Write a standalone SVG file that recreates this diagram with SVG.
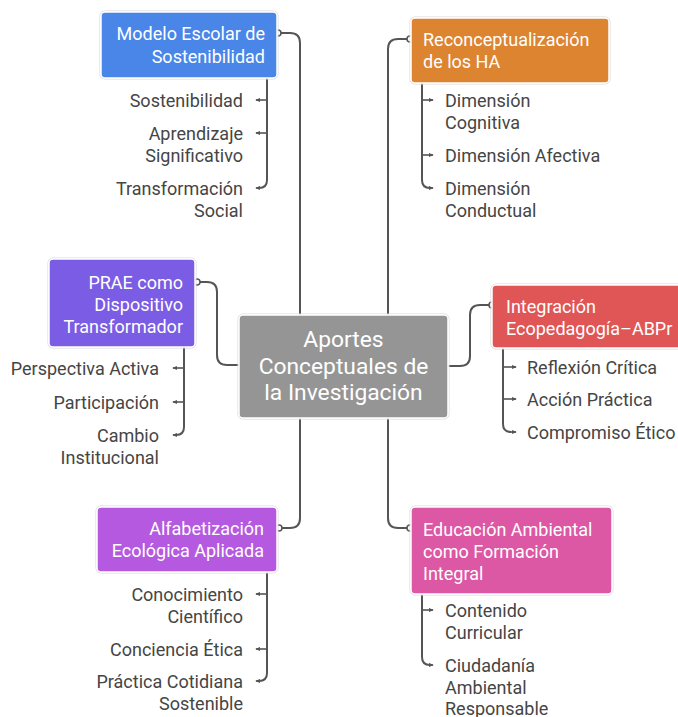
<svg xmlns="http://www.w3.org/2000/svg" width="678" height="717" viewBox="0 0 678 717">
<style>
.box{stroke:#ffffff;stroke-width:1.5}
.frame{fill:none;stroke:#d9d9d9;stroke-width:1}
.nt{font-family:Roboto,"Liberation Sans",sans-serif;font-size:18px;fill:#ffffff}
.ct{font-family:Roboto,"Liberation Sans",sans-serif;font-size:22.8px;fill:#ffffff;text-anchor:middle}
.lt{font-family:Roboto,"Liberation Sans",sans-serif;font-size:18px;fill:#454545}
.r{text-anchor:end}
.c{fill:none;stroke:#555555;stroke-width:2}
.t{fill:none;stroke:#555555;stroke-width:1.6;marker-end:url(#ah)}
.o{fill:#ffffff;stroke:#555555;stroke-width:1.5}
</style>
<defs>
<marker id="ah" viewBox="0 0 6 6" refX="5" refY="3" markerWidth="5" markerHeight="5" orient="auto" markerUnits="userSpaceOnUse"><path d="M0,0.5 L6,3 L0,5.5 z" fill="#555555"/></marker>
</defs>
<rect width="678" height="717" fill="#ffffff"/>
<g id="connectors">
<path class="c" d="M278 33 H290 Q300 33 300 43 V315"/>
<path class="c" d="M410 39 H398 Q388 39 388 49 V315"/>
<path class="c" d="M197 282 H207 Q217 282 217 292 V355 Q217 365 227 365 H239"/>
<path class="c" d="M448 366 H460 Q470 366 470 356 V315 Q470 305 480 305 H491"/>
<path class="c" d="M300 418 V518 Q300 528 290 528 H279"/>
<path class="c" d="M388 418 V518 Q388 528 398 528 H410"/>
<circle class="o" cx="278" cy="33" r="3"/>
<circle class="o" cx="410" cy="39" r="3"/>
<circle class="o" cx="197" cy="282" r="3"/>
<circle class="o" cx="492" cy="305" r="3"/>
<circle class="o" cx="279" cy="528" r="3"/>
<circle class="o" cx="410" cy="528" r="3"/>
<path class="c" d="M267 78 V180 Q267 188 259 188"/>
<path class="t" d="M267 100 H256"/>
<path class="t" d="M267 133 H256"/>
<path class="t" d="M260 188 H256"/>
<path class="c" d="M422 83 V180 Q422 188 430 188"/>
<path class="t" d="M422 100 H433"/>
<path class="t" d="M422 155 H433"/>
<path class="t" d="M429 188 H433"/>
<path class="c" d="M184 347 V427 Q184 435 176 435"/>
<path class="t" d="M184 368 H173"/>
<path class="t" d="M184 402 H173"/>
<path class="t" d="M177 435 H173"/>
<path class="c" d="M503 348 V424 Q503 432 511 432"/>
<path class="t" d="M503 367 H516"/>
<path class="t" d="M503 399 H516"/>
<path class="t" d="M510 432 H516"/>
<path class="c" d="M267 572 V673 Q267 681 259 681"/>
<path class="t" d="M267 594 H256"/>
<path class="t" d="M267 649 H256"/>
<path class="t" d="M260 681 H256"/>
<path class="c" d="M422 594 V657 Q422 665 430 665"/>
<path class="t" d="M422 610 H433"/>
<path class="t" d="M429 665 H433"/>
</g>
<g id="center">
<rect class="frame" x="238" y="314" width="211" height="105" rx="5"/>
<rect class="box" x="239" y="315" width="209" height="103" rx="4" fill="#959595"/>
<text class="ct" x="343.5" y="347">Aportes</text>
<text class="ct" x="343.5" y="373.5">Conceptuales de</text>
<text class="ct" x="343.5" y="400">la Investigación</text>
</g>
<g id="modelo">
<rect class="frame" x="100" y="11" width="178" height="68" rx="5"/>
<rect class="box" x="101" y="12" width="176" height="66" rx="4" fill="#4a86e8"/>
<text class="nt r" x="265" y="40">Modelo Escolar de</text>
<text class="nt r" x="265" y="62.5">Sostenibilidad</text>
</g>
<g id="modelo-children">
<text class="lt r" x="243" y="106.5">Sostenibilidad</text>
<text class="lt r" x="243" y="139.5">Aprendizaje</text>
<text class="lt r" x="243" y="161.5">Significativo</text>
<text class="lt r" x="243" y="194.5">Transformación</text>
<text class="lt r" x="243" y="216.5">Social</text>
</g>
<g id="reconceptualizacion">
<rect class="frame" x="410" y="17" width="200" height="67" rx="5"/>
<rect class="box" x="411" y="18" width="198" height="65" rx="4" fill="#dd8431"/>
<text class="nt" x="423" y="45.5">Reconceptualización</text>
<text class="nt" x="423" y="67.5">de los HA</text>
</g>
<g id="reconceptualizacion-children">
<text class="lt" x="445" y="106.5">Dimensión</text>
<text class="lt" x="445" y="128.5">Cognitiva</text>
<text class="lt" x="445" y="161.5">Dimensión Afectiva</text>
<text class="lt" x="445" y="194.5">Dimensión</text>
<text class="lt" x="445" y="216.5">Conductual</text>
</g>
<g id="prae">
<rect class="frame" x="48" y="258" width="148" height="90" rx="5"/>
<rect class="box" x="49" y="259" width="146" height="88" rx="4" fill="#7b5ce5"/>
<text class="nt r" x="183" y="288.5">PRAE como</text>
<text class="nt r" x="183" y="310.5">Dispositivo</text>
<text class="nt r" x="183" y="332.5">Transformador</text>
</g>
<g id="prae-children">
<text class="lt r" x="159" y="374.5">Perspectiva Activa</text>
<text class="lt r" x="159" y="408.5">Participación</text>
<text class="lt r" x="159" y="441.5">Cambio</text>
<text class="lt r" x="159" y="463.5">Institucional</text>
</g>
<g id="integracion">
<rect class="frame" x="491" y="284" width="200" height="65" rx="5"/>
<rect class="box" x="492" y="285" width="198" height="63" rx="4" fill="#e05656"/>
<text class="nt" x="506" y="312.5">Integración</text>
<text class="nt" x="506" y="334.5">Ecopedagogía–ABPr</text>
</g>
<g id="integracion-children">
<text class="lt" x="527" y="373.5">Reflexión Crítica</text>
<text class="lt" x="527" y="405.5">Acción Práctica</text>
<text class="lt" x="527" y="438.5">Compromiso Ético</text>
</g>
<g id="alfabetizacion">
<rect class="frame" x="96" y="506" width="182" height="67" rx="5"/>
<rect class="box" x="97" y="507" width="180" height="65" rx="4" fill="#b55ae0"/>
<text class="nt r" x="264" y="534.5">Alfabetización</text>
<text class="nt r" x="264" y="556.5">Ecológica Aplicada</text>
</g>
<g id="alfabetizacion-children">
<text class="lt r" x="243" y="600.5">Conocimiento</text>
<text class="lt r" x="243" y="622.5">Científico</text>
<text class="lt r" x="243" y="655.5">Conciencia Ética</text>
<text class="lt r" x="243" y="687.5">Práctica Cotidiana</text>
<text class="lt r" x="243" y="709.5">Sostenible</text>
</g>
<g id="educacion">
<rect class="frame" x="410" y="506" width="203" height="89" rx="5"/>
<rect class="box" x="411" y="507" width="201" height="87" rx="4" fill="#dc57a4"/>
<text class="nt" x="423" y="535.5">Educación Ambiental</text>
<text class="nt" x="423" y="557.5">como Formación</text>
<text class="nt" x="423" y="579.5">Integral</text>
</g>
<g id="educacion-children">
<text class="lt" x="445" y="616.5">Contenido</text>
<text class="lt" x="445" y="638.5">Curricular</text>
<text class="lt" x="445" y="671.5">Ciudadanía</text>
<text class="lt" x="445" y="693.5">Ambiental</text>
<text class="lt" x="445" y="715">Responsable</text>
</g>
</svg>
